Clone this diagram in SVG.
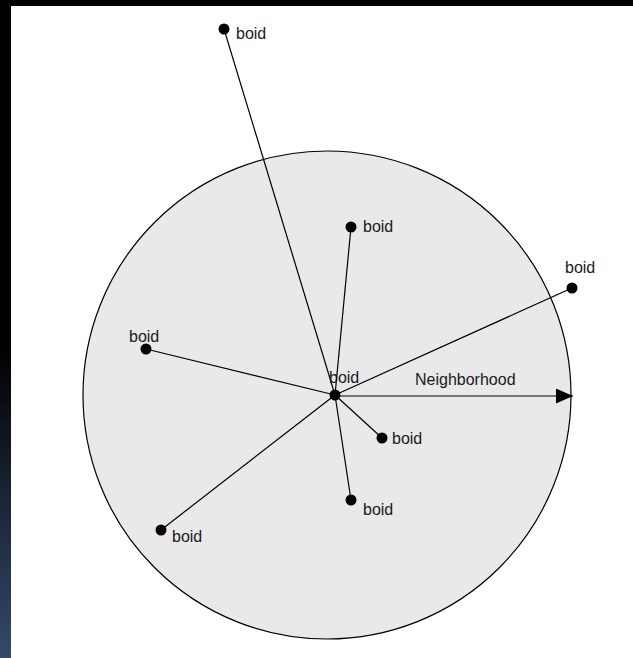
<svg xmlns="http://www.w3.org/2000/svg" width="633" height="658" viewBox="0 0 633 658">
<defs>
<linearGradient id="band" x1="0" y1="0" x2="0" y2="1">
<stop offset="0" stop-color="#000"/>
<stop offset="0.52" stop-color="#000"/>
<stop offset="1" stop-color="#35496b"/>
</linearGradient>
<marker id="arr" viewBox="0 0 17 15" refX="17" refY="7.5" markerWidth="17" markerHeight="15" markerUnits="userSpaceOnUse" orient="auto">
<path d="M0,0 L17,7.5 L0,15 Z" fill="#000"/>
</marker>
<style>
.lbl{font-family:"Liberation Sans",Arial,sans-serif;font-size:16px;fill:#1a1a1a}
.dot{fill:#000}
.ln{stroke:#000;stroke-width:1.2;fill:none}
</style>
</defs>
<rect x="0" y="0" width="633" height="658" fill="#fff"/>
<rect x="0" y="0" width="11" height="658" fill="url(#band)"/>
<rect x="0" y="0" width="633" height="6" fill="#000"/>
<g id="neighborhood">
<circle cx="327" cy="395" r="244" fill="#e9e9e9" stroke="#000" stroke-width="1.2"/>
</g>
<g id="connectors">
<line class="ln" x1="335" y1="395" x2="224" y2="29"/>
<line class="ln" x1="335" y1="395" x2="351" y2="227"/>
<line class="ln" x1="335" y1="395" x2="572" y2="288"/>
<line class="ln" x1="335" y1="395" x2="146" y2="349"/>
<line class="ln" x1="335" y1="395" x2="382" y2="438"/>
<line class="ln" x1="335" y1="395" x2="351" y2="500"/>
<line class="ln" x1="335" y1="395" x2="161" y2="530"/>
<line class="ln" x1="335" y1="396" x2="573" y2="396" marker-end="url(#arr)"/>
<text class="lbl" x="415" y="385">Neighborhood</text>
</g>
<g id="boid-center"><circle class="dot" cx="335" cy="395" r="5.5"/><text class="lbl" x="329" y="383">boid</text></g>
<g id="boid-1"><circle class="dot" cx="224" cy="29" r="5.5"/><text class="lbl" x="236" y="39">boid</text></g>
<g id="boid-2"><circle class="dot" cx="351" cy="227" r="5.5"/><text class="lbl" x="363" y="232">boid</text></g>
<g id="boid-3"><circle class="dot" cx="572" cy="288" r="5.5"/><text class="lbl" x="565" y="273">boid</text></g>
<g id="boid-4"><circle class="dot" cx="146" cy="349" r="5.5"/><text class="lbl" x="129" y="342">boid</text></g>
<g id="boid-5"><circle class="dot" cx="382" cy="438" r="5.5"/><text class="lbl" x="392" y="444">boid</text></g>
<g id="boid-6"><circle class="dot" cx="351" cy="500" r="5.5"/><text class="lbl" x="363" y="515">boid</text></g>
<g id="boid-7"><circle class="dot" cx="161" cy="530" r="5.5"/><text class="lbl" x="172" y="542">boid</text></g>
</svg>
